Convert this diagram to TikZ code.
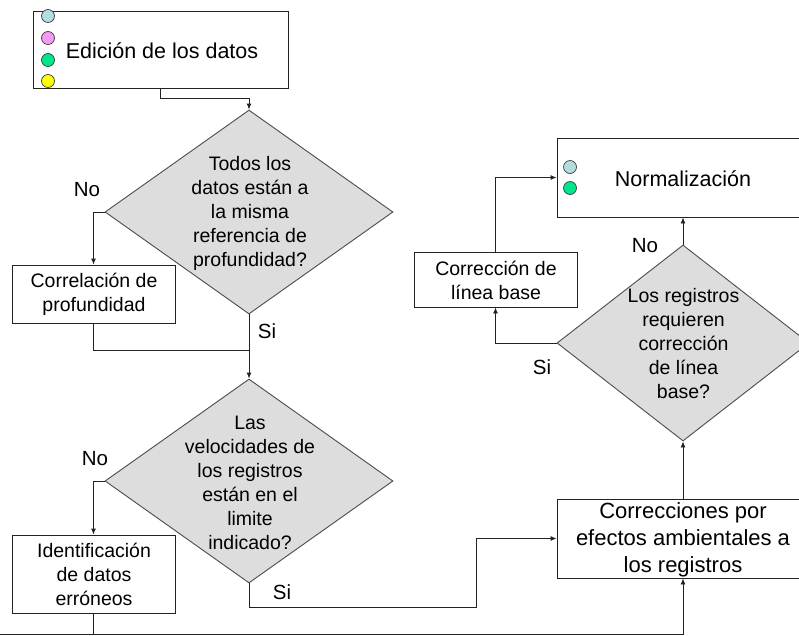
\documentclass[tikz,border=0pt]{standalone}
\usepackage{fontspec}
\setmainfont{Liberation Sans}
\usetikzlibrary{shapes.geometric,arrows.meta}
\newcommand\fsz[2]{\fontsize{#1}{#2}\selectfont}
\definecolor{cblue}{HTML}{B4DCDC}
\definecolor{cpink}{HTML}{F59AF5}
\definecolor{cgreen}{HTML}{00E68C}
\definecolor{cyellow}{HTML}{FFFF00}
\definecolor{dfill}{HTML}{DDDDDD}
\definecolor{lcol}{HTML}{222222}
\begin{document}
\begin{tikzpicture}[x=1pt,y=-1pt,
  box/.style={draw=lcol, line width=0.9pt, fill=white, rectangle, inner sep=0pt},
  dia/.style={diamond, draw=black!70, fill=dfill, line width=0.9pt, inner sep=0pt},
  txt/.style={align=center, inner sep=0pt, font=\fsz{19.5}{24}},
  lbl/.style={inner sep=0pt, font=\fsz{20.5}{24}},
  dot/.style={circle, draw=black!75, line width=0.7pt, minimum size=13pt, inner sep=0pt},
  arr/.style={draw=lcol, line width=0.9pt, -{Latex[length=6pt,width=5pt]}},
  ln/.style={draw=lcol, line width=0.9pt}]
\useasboundingbox (0,0) rectangle (799,635);
\clip (0,0) rectangle (799,635);
\fill[white] (0,0) rectangle (799,635);

% boxes
\node[box, minimum width=255pt, minimum height=77pt] (top) at (160.5,49.5) {};
\node[font=\fsz{21.5}{24}, inner sep=0pt] (toptxt) at (162,51) {Edición de los datos};
\node[box, minimum width=163pt, minimum height=58pt] (corr1) at (93.5,294) {};
\node[txt] (corr1t) at (94,294) {Correlación de\\profundidad};
\node[box, minimum width=163pt, minimum height=78pt] (ident) at (93.5,574) {};
\node[txt] (identt) at (94,574) {Identificación\\de datos\\erróneos};
\node[box, minimum width=163pt, minimum height=55pt] (corrlb) at (495.5,279.5) {};
\node[txt] (corrlbt) at (496,280) {Corrección de\\línea base};
\node[box, minimum width=253pt, minimum height=79pt] (norm) at (683.5,177.5) {};
\node[font=\fsz{21.5}{24}, inner sep=0pt] (normt) at (683,179) {Normalización};
\node[box, minimum width=253pt, minimum height=79pt] (correc) at (683.5,538.5) {};
\node[align=center, inner sep=0pt, font=\fsz{22}{27}] (correct) at (683,540) {Correcciones por\\efectos ambientales a\\los registros};

% diamonds
\node[dia, minimum width=288pt, minimum height=204pt] (d1) at (249,212) {};
\node[txt] (d1t) at (250,213) {Todos los\\datos están a\\la misma\\referencia de\\profundidad?};
\node[dia, minimum width=288pt, minimum height=204pt] (d2) at (249,481) {};
\node[txt] (d2t) at (250,483) {Las\\velocidades de\\los registros\\están en el\\limite\\indicado?};
\node[dia, minimum width=252pt, minimum height=196pt] (d3) at (683,343) {};
\node[txt] (d3t) at (683.5,343.5) {Los registros\\requieren\\corrección\\de línea\\base?};

% dots
\node[dot, fill=cblue] (ca) at (48,16) {};
\node[dot, fill=cpink] (cb) at (48,38) {};
\node[dot, fill=cgreen] (cc) at (48,60) {};
\node[dot, fill=cyellow] (cd) at (48,81) {};
\node[dot, fill=cblue] (ne) at (570,167) {};
\node[dot, fill=cgreen] (nf) at (570,188) {};

% labels
\node[lbl] (no1) at (87,189.5) {No};
\node[lbl] (si1) at (267,331) {Si};
\node[lbl] (no2) at (95,459) {No};
\node[lbl] (si2) at (282,592) {Si};
\node[lbl] (no3) at (645,246) {No};
\node[lbl] (si3) at (542,367) {Si};

% connectors
\draw[arr] (top.south) -- (top.south |- 0,98) -| (d1.north);
\draw[arr] (d1.west) -| (corr1.north);
\draw[ln] (corr1.south) |- (d1.south |- 0,350);
\draw[arr] (d1.south) -- (d2.north);
\draw[arr] (d2.west) -| (ident.north);
\draw[arr] (ident.south) |- (0,634) -| (d3.south |- correc.south);
\draw[arr] (d2.south) |- (476,607) |- (correc.west);
\draw[arr] (d3.south |- correc.north) -- (d3.south);
\draw[arr] (d3.north) -- (d3.north |- norm.south);
\draw[arr] (d3.west) -| (corrlb.south);
\draw[arr] (corrlb.north) |- (norm.west);
\end{tikzpicture}
\end{document}
